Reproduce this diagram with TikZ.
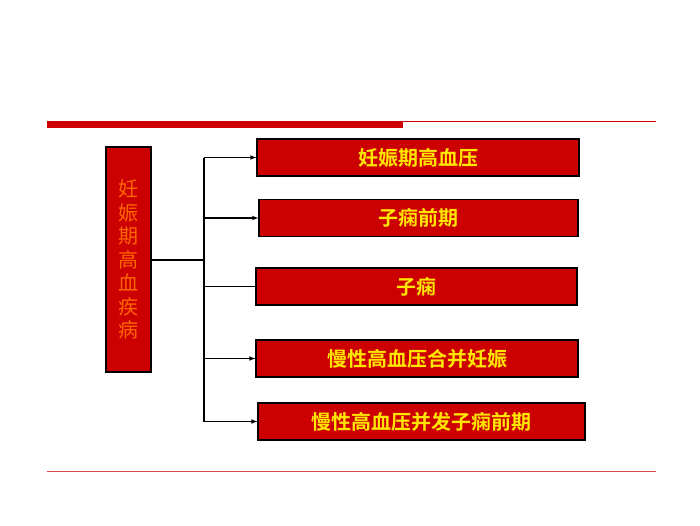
\documentclass[tikz,border=0pt]{standalone}
\usepackage{fontspec}
\newfontfamily\cjk{Noto Sans CJK SC}
\newfontfamily\cjkbold{Noto Sans CJK SC Bold}
\usetikzlibrary{positioning, arrows}
\definecolor{boxred}{RGB}{204,0,0}
\definecolor{txtyellow}{RGB}{255,230,0}
\definecolor{txtorange}{RGB}{255,102,0}

\begin{document}
\begin{tikzpicture}[x=1pt,y=-1pt,
  kind/.style={draw=black, line width=1.2pt, fill=boxred, minimum height=37pt, inner sep=0pt, font=\cjkbold\fontsize{20}{22}\selectfont, text=txtyellow},
  link/.style={line width=1.1pt, -latex}]
\useasboundingbox (0,0) rectangle (700,525);
\fill [boxred] (47,121) rectangle (403,128);
\draw [boxred, line width=0.8pt] (403,121) -- (656,121);
\draw [boxred!70, line width=0.6pt] (47,471) -- (656,471);
\node [draw=black, line width=1.2pt, fill=boxred, minimum width=45pt, minimum height=225pt, inner sep=0pt, text=txtorange, font=\cjk\fontsize{20}{23.5}\selectfont, align=center] (root) at (128.5,259.5) {妊\\娠\\期\\高\\血\\疾\\病};
\node [kind, minimum width=322pt] (k1) at (418,157.5) {妊娠期高血压};
\node [kind, minimum width=319pt] (k2) at (418.5,218) {子痫前期};
\node [kind, minimum width=321pt] (k3) at (416.5,286.5) {子痫};
\node [kind, minimum width=322pt] (k4) at (417,358.5) {慢性高血压合并妊娠};
\node [kind, minimum width=327pt] (k5) at (421.5,421.5) {慢性高血压并发子痫前期};
\coordinate (fork) at (204,260);
\draw [line width=1.6pt] (root.east |- fork) -- (fork);
\draw [line width=1.6pt] (204,157.5) -- (204,421.5);
\draw [link] (204,157.5) -- (k1.west);
\draw [link] (204,218) -- (k2.west);
\draw [line width=1.1pt] (204,286.5) -- (k3.west);
\draw [link] (204,358.5) -- (k4.west);
\draw [link] (204,421.5) -- (k5.west);
\end{tikzpicture}
\end{document}
